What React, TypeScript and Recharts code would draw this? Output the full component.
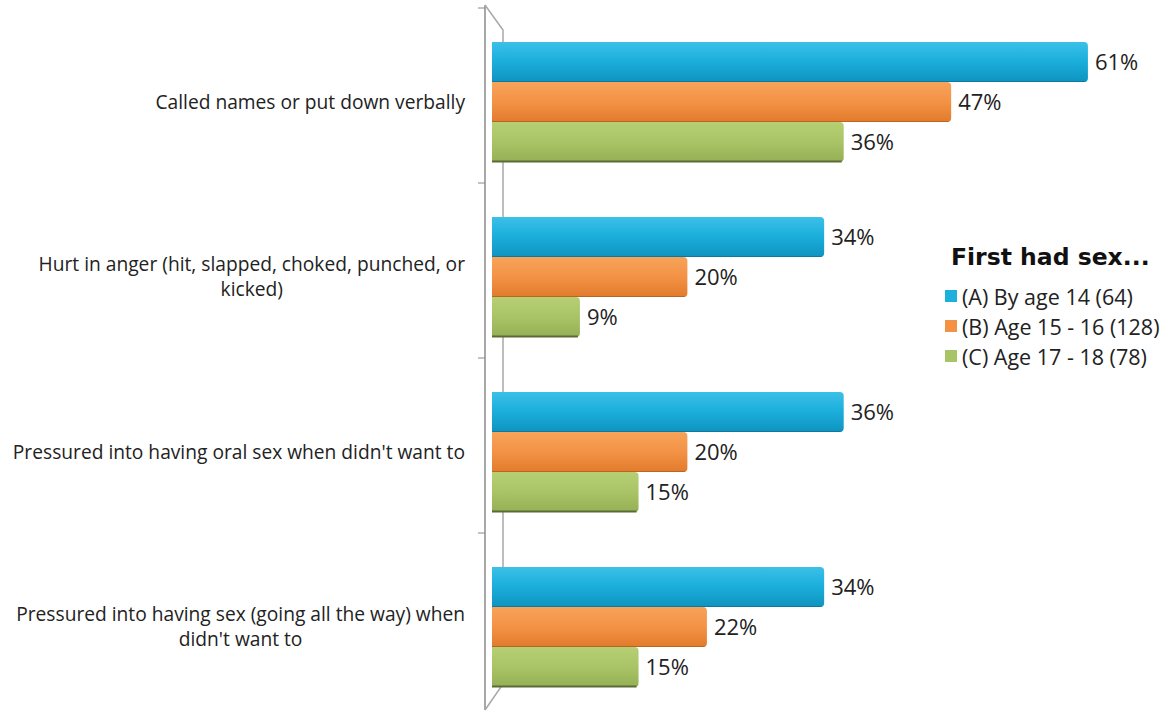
import React from "react";
import { BarChart, Bar, XAxis, YAxis, LabelList, Customized } from "recharts";

const categories = [
  "Called names or put down verbally",
  "Hurt in anger (hit, slapped, choked, punched, or kicked)",
  "Pressured into having oral sex when didn't want to",
  "Pressured into having sex (going all the way) when didn't want to",
];
const byAge14 = [61, 34, 36, 34];
const age15to16 = [47, 20, 20, 22];
const age17to18 = [36, 9, 15, 15];
const seriesNames = ["(A) By age 14 (64)", "(B) Age 15 - 16 (128)", "(C) Age 17 - 18 (78)"];
const legendTitle = "First had sex...";

const colors = ["#1cb0dc", "#f39245", "#a9c466"];
const FONT = "'Open Sans', sans-serif";
const W = 1170;
const H = 715;
const MARGIN = { top: 14, right: 43, bottom: 1, left: 0 };
const AXIS_W = 492;

const data = categories.map((name, i) => ({
  name,
  a: byAge14[i],
  b: age15to16[i],
  c: age17to18[i],
}));

let ctx: CanvasRenderingContext2D | null = null;
function measure(text: string, font: string) {
  if (!ctx) ctx = document.createElement("canvas").getContext("2d");
  if (!ctx) return text.length * 8;
  ctx.font = font;
  return ctx.measureText(text).width;
}

function CategoryTick(props: any) {
  const { x, y, payload } = props;
  const size = 19.2;
  const font = `${size}px ${FONT}`;
  const maxW = 457;
  const words = String(payload.value).split(" ");
  const lines: string[] = [];
  let cur = "";
  words.forEach((w) => {
    const t = cur ? cur + " " + w : w;
    if (measure(t, font) > maxW && cur) {
      lines.push(cur);
      cur = w;
    } else cur = t;
  });
  if (cur) lines.push(cur);
  const blockW = Math.max(...lines.map((l) => measure(l, font)));
  const right = x - 19;
  const cx = right - blockW / 2;
  const lh = 25;
  const y0 = y - ((lines.length - 1) * lh) / 2 + 7;
  return (
    <g>
      {lines.map((l, i) => (
        <text key={i} x={cx} y={y0 + i * lh} textAnchor="middle" fontSize={size} fontFamily={FONT} fill="#222">
          {l}
        </text>
      ))}
    </g>
  );
}

// 3D-looking side wall behind the category axis
function Wall() {
  const left = MARGIN.left + AXIS_W;
  const top = MARGIN.top;
  const bottom = H - MARGIN.bottom;
  const band = (bottom - top) / categories.length;
  const lx = left - 7;
  const rx = left + 11;
  const stroke = "#a8a8a8";
  return (
    <g>
      <path d={`M${lx},${top - 9} V${bottom - 4}`} stroke={stroke} strokeWidth={2} fill="none" />
      <path d={`M${lx},${top - 9} L${rx},${top + 16} V${bottom - 30} L${lx},${bottom - 4}`} stroke={stroke} strokeWidth={1.5} fill="none" />
      {categories.slice(1).map((_, i) => (
        <line key={i} x1={lx - 7} x2={lx} y1={top + band * (i + 1) - 6} y2={top + band * (i + 1) - 6} stroke="#888" strokeWidth={1} />
      ))}
      <line x1={lx - 7} x2={lx} y1={top - 6} y2={top - 6} stroke="#888" strokeWidth={1} />
    </g>
  );
}

function BarShape(props: any) {
  const { x, y, width, height, idx } = props;
  if (!width || width <= 0) return null;
  const r = 4;
  const path = `M${x},${y} H${x + width - r} Q${x + width},${y} ${x + width},${y + r} V${y + height - r} Q${x + width},${y + height} ${x + width - r},${y + height} H${x} Z`;
  return (
    <g>
      <path d={path} fill={`url(#grad${idx})`} />
      <line x1={x} x2={x + width - 2} y1={y + height - 0.5} y2={y + height - 0.5} stroke={idx === 2 ? "#5c6a35" : "rgba(0,0,0,0.18)"} strokeWidth={idx === 2 ? 2 : 1} />
    </g>
  );
}

export default function App() {
  const keys = ["a", "b", "c"];
  return (
    <div style={{ position: "absolute", left: 0, top: 0, width: W, height: H, background: "#fff" }}>
      <BarChart width={W} height={H} data={data} layout="vertical" margin={MARGIN} barGap={0}>
        <defs>
          <linearGradient id="grad0" x1="0" y1="0" x2="0" y2="1">
            <stop offset="0%" stopColor="#3cc0e8" />
            <stop offset="45%" stopColor="#1cb0dc" />
            <stop offset="100%" stopColor="#0f93c0" />
          </linearGradient>
          <linearGradient id="grad1" x1="0" y1="0" x2="0" y2="1">
            <stop offset="0%" stopColor="#f7a35a" />
            <stop offset="50%" stopColor="#f39245" />
            <stop offset="100%" stopColor="#e27b2c" />
          </linearGradient>
          <linearGradient id="grad2" x1="0" y1="0" x2="0" y2="1">
            <stop offset="0%" stopColor="#b6cf74" />
            <stop offset="50%" stopColor="#a9c466" />
            <stop offset="100%" stopColor="#95b055" />
          </linearGradient>
        </defs>
        <Customized component={Wall} />
        <XAxis type="number" domain={[0, 65]} hide />
        <YAxis
          type="category"
          dataKey="name"
          width={AXIS_W}
          axisLine={false}
          tickLine={false}
          tick={<CategoryTick />}
          interval={0}
        />
        {keys.map((k, i) => (
          <Bar
            key={k}
            dataKey={k}
            name={seriesNames[i]}
            barSize={40}
            isAnimationActive={false}
            shape={(p: any) => <BarShape {...p} idx={i} />}
          >
            <LabelList
              dataKey={k}
              position="right"
              offset={7}
              formatter={(v: any) => `${v}%`}
              style={{ fontSize: 22, fontFamily: FONT, fill: "#222" }}
            />
          </Bar>
        ))}
      </BarChart>
      <div style={{ position: "absolute", left: 945, top: 243, fontFamily: FONT }}>
        <div style={{ fontFamily: "'DejaVu Sans', sans-serif", fontWeight: 900, fontSize: 23.5, color: "#111", marginLeft: 6, marginBottom: 10, whiteSpace: "nowrap" }}>
          {legendTitle}
        </div>
        {seriesNames.map((n, i) => (
          <div key={n} style={{ display: "flex", alignItems: "center", height: 30, fontSize: 21.5, color: "#222", whiteSpace: "nowrap" }}>
            <span style={{ display: "inline-block", width: 12, height: 12, background: colors[i], marginRight: 5 }} />
            {n}
          </div>
        ))}
      </div>
    </div>
  );
}
